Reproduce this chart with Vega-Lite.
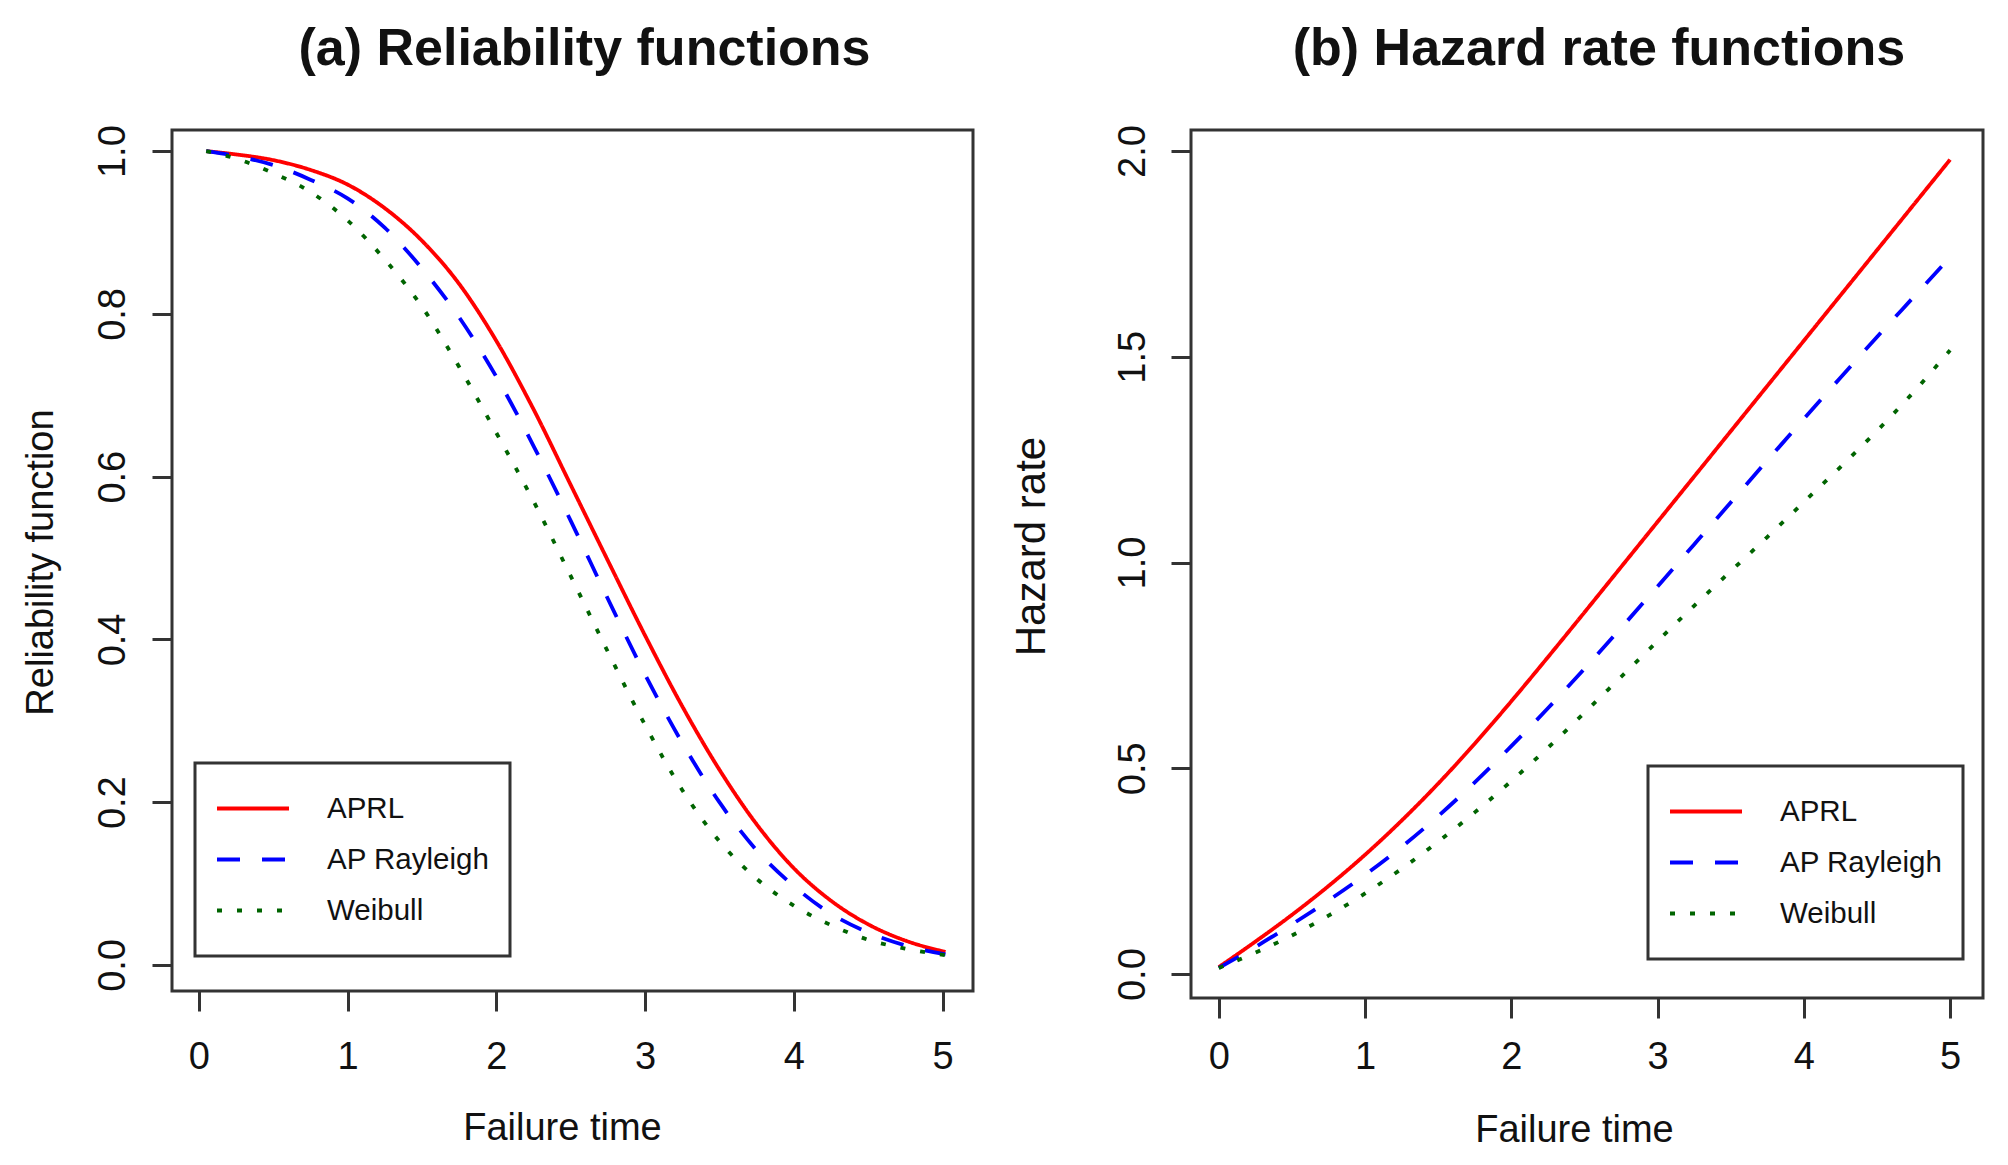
{
  "$schema": "https://vega.github.io/schema/vega-lite/v6.json",
  "background": "white",
  "padding": {"left": 20, "top": 21, "right": 25, "bottom": 19},
  "bounds": "flush",
  "spacing": 218,
  "datasets": {
    "rel": [
      {"t": 0.05, "series": "APRL", "value": 1.0},
      {"t": 0.25, "series": "APRL", "value": 0.996},
      {"t": 0.5, "series": "APRL", "value": 0.989},
      {"t": 0.75, "series": "APRL", "value": 0.977},
      {"t": 1.0, "series": "APRL", "value": 0.959},
      {"t": 1.25, "series": "APRL", "value": 0.93},
      {"t": 1.5, "series": "APRL", "value": 0.89},
      {"t": 1.75, "series": "APRL", "value": 0.837},
      {"t": 2.0, "series": "APRL", "value": 0.767},
      {"t": 2.25, "series": "APRL", "value": 0.683},
      {"t": 2.5, "series": "APRL", "value": 0.59},
      {"t": 2.75, "series": "APRL", "value": 0.497},
      {"t": 3.0, "series": "APRL", "value": 0.405},
      {"t": 3.25, "series": "APRL", "value": 0.318},
      {"t": 3.5, "series": "APRL", "value": 0.24},
      {"t": 3.75, "series": "APRL", "value": 0.173},
      {"t": 4.0, "series": "APRL", "value": 0.119},
      {"t": 4.25, "series": "APRL", "value": 0.079},
      {"t": 4.5, "series": "APRL", "value": 0.05},
      {"t": 4.75, "series": "APRL", "value": 0.03},
      {"t": 5.02, "series": "APRL", "value": 0.016},
      {"t": 0.05, "series": "AP Rayleigh", "value": 1.0},
      {"t": 0.25, "series": "AP Rayleigh", "value": 0.994},
      {"t": 0.5, "series": "AP Rayleigh", "value": 0.983},
      {"t": 0.75, "series": "AP Rayleigh", "value": 0.965},
      {"t": 1.0, "series": "AP Rayleigh", "value": 0.942},
      {"t": 1.25, "series": "AP Rayleigh", "value": 0.906},
      {"t": 1.5, "series": "AP Rayleigh", "value": 0.856},
      {"t": 1.75, "series": "AP Rayleigh", "value": 0.796},
      {"t": 2.0, "series": "AP Rayleigh", "value": 0.723},
      {"t": 2.25, "series": "AP Rayleigh", "value": 0.638},
      {"t": 2.5, "series": "AP Rayleigh", "value": 0.546},
      {"t": 2.75, "series": "AP Rayleigh", "value": 0.45},
      {"t": 3.0, "series": "AP Rayleigh", "value": 0.357},
      {"t": 3.25, "series": "AP Rayleigh", "value": 0.273},
      {"t": 3.5, "series": "AP Rayleigh", "value": 0.2},
      {"t": 3.75, "series": "AP Rayleigh", "value": 0.141},
      {"t": 4.0, "series": "AP Rayleigh", "value": 0.097},
      {"t": 4.25, "series": "AP Rayleigh", "value": 0.063},
      {"t": 4.5, "series": "AP Rayleigh", "value": 0.04},
      {"t": 4.75, "series": "AP Rayleigh", "value": 0.024},
      {"t": 5.02, "series": "AP Rayleigh", "value": 0.013},
      {"t": 0.05, "series": "Weibull", "value": 1.0},
      {"t": 0.25, "series": "Weibull", "value": 0.991},
      {"t": 0.5, "series": "Weibull", "value": 0.973},
      {"t": 0.75, "series": "Weibull", "value": 0.95},
      {"t": 1.0, "series": "Weibull", "value": 0.915},
      {"t": 1.25, "series": "Weibull", "value": 0.867},
      {"t": 1.5, "series": "Weibull", "value": 0.809},
      {"t": 1.75, "series": "Weibull", "value": 0.735},
      {"t": 2.0, "series": "Weibull", "value": 0.654},
      {"t": 2.25, "series": "Weibull", "value": 0.57},
      {"t": 2.5, "series": "Weibull", "value": 0.478},
      {"t": 2.75, "series": "Weibull", "value": 0.385},
      {"t": 3.0, "series": "Weibull", "value": 0.295},
      {"t": 3.25, "series": "Weibull", "value": 0.215},
      {"t": 3.5, "series": "Weibull", "value": 0.152},
      {"t": 3.75, "series": "Weibull", "value": 0.106},
      {"t": 4.0, "series": "Weibull", "value": 0.073},
      {"t": 4.25, "series": "Weibull", "value": 0.049},
      {"t": 4.5, "series": "Weibull", "value": 0.031},
      {"t": 4.75, "series": "Weibull", "value": 0.02},
      {"t": 5.02, "series": "Weibull", "value": 0.012}
    ],
    "haz": [
      {"t": 0, "series": "APRL", "value": 0.017},
      {"t": 0.25, "series": "APRL", "value": 0.079},
      {"t": 0.5, "series": "APRL", "value": 0.144},
      {"t": 0.75, "series": "APRL", "value": 0.214},
      {"t": 1.0, "series": "APRL", "value": 0.29},
      {"t": 1.25, "series": "APRL", "value": 0.373},
      {"t": 1.5, "series": "APRL", "value": 0.463},
      {"t": 1.75, "series": "APRL", "value": 0.56},
      {"t": 2.0, "series": "APRL", "value": 0.663},
      {"t": 2.25, "series": "APRL", "value": 0.77},
      {"t": 2.5, "series": "APRL", "value": 0.879},
      {"t": 2.75, "series": "APRL", "value": 0.989},
      {"t": 3.0, "series": "APRL", "value": 1.099},
      {"t": 3.25, "series": "APRL", "value": 1.209},
      {"t": 3.5, "series": "APRL", "value": 1.319},
      {"t": 3.75, "series": "APRL", "value": 1.429},
      {"t": 4.0, "series": "APRL", "value": 1.539},
      {"t": 4.25, "series": "APRL", "value": 1.649},
      {"t": 4.5, "series": "APRL", "value": 1.759},
      {"t": 4.75, "series": "APRL", "value": 1.869},
      {"t": 5.0, "series": "APRL", "value": 1.979},
      {"t": 0, "series": "AP Rayleigh", "value": 0.015},
      {"t": 0.25, "series": "AP Rayleigh", "value": 0.066},
      {"t": 0.5, "series": "AP Rayleigh", "value": 0.121},
      {"t": 0.75, "series": "AP Rayleigh", "value": 0.179},
      {"t": 1.0, "series": "AP Rayleigh", "value": 0.241},
      {"t": 1.25, "series": "AP Rayleigh", "value": 0.309},
      {"t": 1.5, "series": "AP Rayleigh", "value": 0.384},
      {"t": 1.75, "series": "AP Rayleigh", "value": 0.466},
      {"t": 2.0, "series": "AP Rayleigh", "value": 0.554},
      {"t": 2.25, "series": "AP Rayleigh", "value": 0.646},
      {"t": 2.5, "series": "AP Rayleigh", "value": 0.742},
      {"t": 2.75, "series": "AP Rayleigh", "value": 0.841},
      {"t": 3.0, "series": "AP Rayleigh", "value": 0.942},
      {"t": 3.25, "series": "AP Rayleigh", "value": 1.044},
      {"t": 3.5, "series": "AP Rayleigh", "value": 1.146},
      {"t": 3.75, "series": "AP Rayleigh", "value": 1.248},
      {"t": 4.0, "series": "AP Rayleigh", "value": 1.349},
      {"t": 4.25, "series": "AP Rayleigh", "value": 1.449},
      {"t": 4.5, "series": "AP Rayleigh", "value": 1.548},
      {"t": 4.75, "series": "AP Rayleigh", "value": 1.645},
      {"t": 5.0, "series": "AP Rayleigh", "value": 1.742},
      {"t": 0, "series": "Weibull", "value": 0.015},
      {"t": 0.25, "series": "Weibull", "value": 0.052},
      {"t": 0.5, "series": "Weibull", "value": 0.094},
      {"t": 0.75, "series": "Weibull", "value": 0.142},
      {"t": 1.0, "series": "Weibull", "value": 0.196},
      {"t": 1.25, "series": "Weibull", "value": 0.256},
      {"t": 1.5, "series": "Weibull", "value": 0.322},
      {"t": 1.75, "series": "Weibull", "value": 0.393},
      {"t": 2.0, "series": "Weibull", "value": 0.469},
      {"t": 2.25, "series": "Weibull", "value": 0.55},
      {"t": 2.5, "series": "Weibull", "value": 0.635},
      {"t": 2.75, "series": "Weibull", "value": 0.722},
      {"t": 3.0, "series": "Weibull", "value": 0.809},
      {"t": 3.25, "series": "Weibull", "value": 0.895},
      {"t": 3.5, "series": "Weibull", "value": 0.979},
      {"t": 3.75, "series": "Weibull", "value": 1.062},
      {"t": 4.0, "series": "Weibull", "value": 1.147},
      {"t": 4.25, "series": "Weibull", "value": 1.232},
      {"t": 4.5, "series": "Weibull", "value": 1.32},
      {"t": 4.75, "series": "Weibull", "value": 1.414},
      {"t": 5.0, "series": "Weibull", "value": 1.516}
    ]
  },
  "config": {
    "font": "Liberation Sans",
    "view": {"stroke": "#333", "strokeWidth": 3},
    "axis": {
      "grid": false,
      "domain": false,
      "ticks": true,
      "tickColor": "#333",
      "tickWidth": 3,
      "tickSize": 20,
      "labelFont": "Liberation Sans",
      "labelFontSize": 38,
      "labelColor": "#111",
      "labelFlush": false,
      "labelOverlap": false,
      "labelBound": false,
      "titleFont": "Liberation Sans",
      "titleFontSize": 38,
      "titleFontWeight": "normal",
      "titleColor": "#111"
    },
    "legend": {
      "orient": "none",
      "symbolType": "stroke",
      "symbolSize": 5184,
      "symbolStrokeWidth": 3.8,
      "labelFont": "Liberation Sans",
      "labelFontSize": 29.5,
      "labelColor": "#111",
      "labelLimit": 400,
      "labelOffset": 36,
      "padding": 20,
      "rowPadding": 0,
      "clipHeight": 51,
      "strokeColor": "#333"
    },
    "title": {
      "font": "Liberation Sans",
      "fontSize": 52,
      "fontWeight": "bold",
      "color": "#111",
      "anchor": "middle",
      "frame": "group",
      "baseline": "alphabetic",
      "offset": 49
    }
  },
  "resolve": {
    "scale": {"color": "independent", "strokeDash": "independent"},
    "legend": {"color": "independent", "strokeDash": "independent"}
  },
  "hconcat": [
    {
      "width": 801,
      "height": 861,
      "title": {"text": "(a) Reliability functions", "dx": 12},
      "data": {"name": "rel"},
      "mark": {"type": "line", "strokeWidth": 3.8, "interpolate": "monotone"},
      "encoding": {
        "x": {
          "field": "t",
          "type": "quantitative",
          "scale": {"domain": [-0.18, 5.205], "nice": false, "zero": false},
          "axis": {
            "values": [0, 1, 2, 3, 4, 5],
            "format": "d",
            "title": "Failure time",
            "labelPadding": 27,
            "titleX": 390,
            "titleY": 148,
            "titleBaseline": "alphabetic",
            "titleAlign": "center"
          }
        },
        "y": {
          "field": "value",
          "type": "quantitative",
          "scale": {"domain": [-0.032, 1.026], "nice": false, "zero": false},
          "axis": {
            "values": [0, 0.2, 0.4, 0.6, 0.8, 1.0],
            "format": ".1f",
            "title": "Reliability function",
            "labelAngle": 270,
            "labelAlign": "center",
            "labelBaseline": "alphabetic",
            "labelPadding": 28,
            "titleAngle": 270,
            "titleX": -120,
            "titleY": 432,
            "titleAlign": "center",
            "titleBaseline": "alphabetic"
          }
        },
        "color": {
          "field": "series",
          "type": "nominal",
          "scale": {"domain": ["APRL", "AP Rayleigh", "Weibull"], "range": ["#ff0000", "#0000ff", "#006400"]},
          "legend": {"title": null, "legendX": 23, "legendY": 633, "encode": {"legend": {"update": {"strokeWidth": {"value": 3}}}}}
        },
        "strokeDash": {
          "field": "series",
          "type": "nominal",
          "scale": {"domain": ["APRL", "AP Rayleigh", "Weibull"], "range": [[1, 0], [23, 22], [5, 15]]},
          "legend": {"title": null, "legendX": 23, "legendY": 633, "encode": {"legend": {"update": {"strokeWidth": {"value": 3}}}}}
        }
      }
    },
    {
      "width": 792,
      "height": 868,
      "title": {"text": "(b) Hazard rate functions", "dx": 12},
      "data": {"name": "haz"},
      "mark": {"type": "line", "strokeWidth": 3.8, "interpolate": "monotone"},
      "encoding": {
        "x": {
          "field": "t",
          "type": "quantitative",
          "scale": {"domain": [-0.19, 5.225], "nice": false, "zero": false},
          "axis": {
            "values": [0, 1, 2, 3, 4, 5],
            "format": "d",
            "title": "Failure time",
            "labelPadding": 20,
            "titleX": 383,
            "titleY": 143,
            "titleBaseline": "alphabetic",
            "titleAlign": "center"
          }
        },
        "y": {
          "field": "value",
          "type": "quantitative",
          "scale": {"domain": [-0.058, 2.051], "nice": false, "zero": false},
          "axis": {
            "values": [0, 0.5, 1.0, 1.5, 2.0],
            "format": ".1f",
            "title": "Hazard rate",
            "titleFontSize": 42,
            "labelAngle": 270,
            "labelAlign": "center",
            "labelBaseline": "alphabetic",
            "labelPadding": 27,
            "titleAngle": 270,
            "titleX": -147,
            "titleY": 416,
            "titleAlign": "center",
            "titleBaseline": "alphabetic"
          }
        },
        "color": {
          "field": "series",
          "type": "nominal",
          "scale": {"domain": ["APRL", "AP Rayleigh", "Weibull"], "range": ["#ff0000", "#0000ff", "#006400"]},
          "legend": {"title": null, "legendX": 457, "legendY": 636, "encode": {"legend": {"update": {"strokeWidth": {"value": 3}}}}}
        },
        "strokeDash": {
          "field": "series",
          "type": "nominal",
          "scale": {"domain": ["APRL", "AP Rayleigh", "Weibull"], "range": [[1, 0], [23, 22], [5, 15]]},
          "legend": {"title": null, "legendX": 457, "legendY": 636, "encode": {"legend": {"update": {"strokeWidth": {"value": 3}}}}}
        }
      }
    }
  ]
}
